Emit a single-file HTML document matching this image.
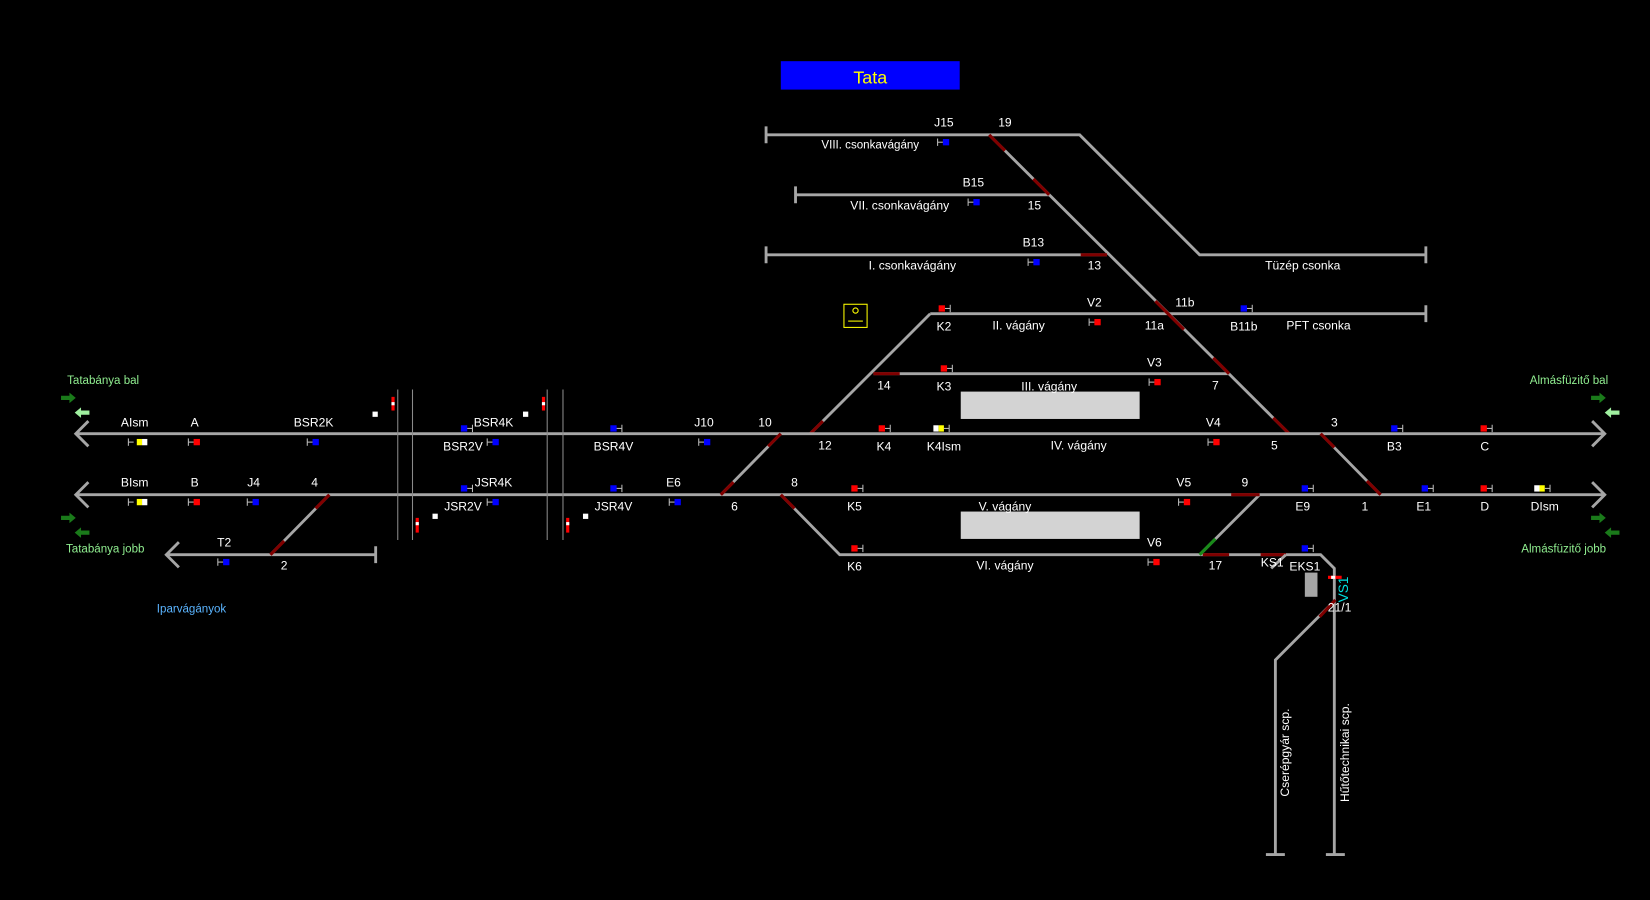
<!DOCTYPE html>
<html><head><meta charset="utf-8"><style>
html,body{margin:0;padding:0;background:#000;}
svg{display:block}
text{font-family:"Liberation Sans",sans-serif;font-size:11.5px;fill:#fff;text-anchor:middle}
.t{stroke:#a6a6a6;stroke-width:2.7;fill:none}
.r{stroke:#800000;stroke-width:3;fill:none}
.g{stroke:#1a8a1a;stroke-width:3;fill:none}
.th{stroke:#8a8a8a;stroke-width:1;fill:none}
</style></head><body>
<svg width="1650" height="900" viewBox="0 0 1568 855" xmlns="http://www.w3.org/2000/svg">
<defs>
<g id="tr"><line x1="3" y1="0" x2="8" y2="0" stroke="#bbb" stroke-width="1"/><line x1="8" y1="-3.5" x2="8" y2="3.5" stroke="#bbb" stroke-width="1"/></g>
<g id="tl"><line x1="-3" y1="0" x2="-8" y2="0" stroke="#bbb" stroke-width="1"/><line x1="-8" y1="-3.5" x2="-8" y2="3.5" stroke="#bbb" stroke-width="1"/></g>
<rect id="sq" x="-3" y="-3" width="6" height="6"/>
</defs>
<rect x="742" y="58" width="170" height="27" fill="#0000ff"/>
<text x="827" y="79" style="font-size:17px;fill:#ffff00">Tata</text>

<path class="t" d="M728 128H1026L1140 242H1355M728 120V136M1355 234V250"/>
<path class="t" d="M756 185H997M756 177V193"/>
<path class="t" d="M728 242H1052M728 234V250"/>
<path class="t" d="M940 128L1225 412"/>
<path class="t" d="M884 298H1355M1355 290V306"/>
<path class="t" d="M830 355H1168"/>
<path class="t" d="M884 298L770 412"/>
<path class="r" d="M940 128L955 143M982 170L997 185M1027 242H1052M1098 286L1125 313M1153 340L1168 355M1210 397L1225 412M830 355H855"/>
<path class="r" d="M770 412L782 400"/>

<path class="t" d="M72 412H1525M84 400L72 412L84 424M1513 400L1525 412L1513 424"/>
<path class="t" d="M72 470H1525M84 458L72 470L84 482M1513 458L1525 470L1513 482"/>
<path class="t" d="M742 412L685 470M742 470L798 527H1255L1268 540V812M1260 812H1278"/>
<path class="r" d="M742 412L730 424M697 458L685 470M742 470L755 483"/>
<path class="t" d="M1255 412L1312 470"/>
<path class="r" d="M1255 412L1268 425M1299 457L1312 470"/>
<path class="t" d="M1197 470L1140 527"/>
<path class="r" d="M1170 470H1197M1143 527H1168M1198 527H1222"/>
<path class="g" d="M1140 527L1155 512"/>
<path class="t" d="M1222 527L1208 540"/>
<path class="t" d="M1269 570L1212 627V812M1203 812H1221"/>
<path class="r" d="M1269 570L1254 586"/>
<path class="t" d="M158 527H357M170 515L158 527L170 539M357 519V535"/>
<path class="t" d="M313 470L257 527"/>
<path class="r" d="M313 470L300 483M270 514L257 527"/>
<path class="th" d="M378 370V513M392 370V513M520 370V513M535 370V513"/>
<rect x="913" y="372" width="170" height="26" fill="#d3d3d3"/>
<rect x="913" y="486" width="170" height="26" fill="#d3d3d3"/>
<rect x="1240" y="544" width="12" height="23" fill="#a6a6a6"/>
<rect x="802" y="289" width="22" height="22" fill="none" stroke="#ffff00" stroke-width="1"/>
<circle cx="813" cy="295" r="2.5" fill="none" stroke="#ffff00" stroke-width="1"/>
<line x1="806" y1="305" x2="820" y2="305" stroke="#ffff00" stroke-width="1"/>

<g><rect x="372" y="377" width="3" height="13" fill="#f00"/><rect x="372" y="382" width="3" height="3" fill="#fff"/>
<rect x="515" y="377" width="3" height="13" fill="#f00"/><rect x="515" y="382" width="3" height="3" fill="#fff"/>
<rect x="395" y="492" width="3" height="14" fill="#f00"/><rect x="395" y="496" width="3" height="3" fill="#fff"/>
<rect x="538" y="492" width="3" height="14" fill="#f00"/><rect x="538" y="496" width="3" height="3" fill="#fff"/>
<rect x="354" y="391" width="5" height="5" fill="#fff"/><rect x="497" y="391" width="5" height="5" fill="#fff"/>
<rect x="411" y="488" width="5" height="5" fill="#fff"/><rect x="554" y="488" width="5" height="5" fill="#fff"/>
<rect x="1262" y="547" width="13" height="3" fill="#f00"/><rect x="1265" y="547" width="4" height="3" fill="#fff"/>
</g>

<g fill="#0000ff">
<use href="#sq" x="899" y="135"/><use href="#tl" x="899" y="135"/>
<use href="#sq" x="928" y="192"/><use href="#tl" x="928" y="192"/>
<use href="#sq" x="985" y="249"/><use href="#tl" x="985" y="249"/>
<use href="#sq" x="1182" y="293"/><use href="#tr" x="1182" y="293"/>
<use href="#sq" x="300" y="420"/><use href="#tl" x="300" y="420"/>
<use href="#sq" x="441" y="407"/><use href="#tr" x="441" y="407"/>
<use href="#sq" x="471" y="420"/><use href="#tl" x="471" y="420"/>
<use href="#sq" x="583" y="407"/><use href="#tr" x="583" y="407"/>
<use href="#sq" x="672" y="420"/><use href="#tl" x="672" y="420"/>
<use href="#sq" x="1325" y="407"/><use href="#tr" x="1325" y="407"/>
<use href="#sq" x="243" y="477"/><use href="#tl" x="243" y="477"/>
<use href="#sq" x="441" y="464"/><use href="#tr" x="441" y="464"/>
<use href="#sq" x="471" y="477"/><use href="#tl" x="471" y="477"/>
<use href="#sq" x="583" y="464"/><use href="#tr" x="583" y="464"/>
<use href="#sq" x="644" y="477"/><use href="#tl" x="644" y="477"/>
<use href="#sq" x="1240" y="464"/><use href="#tr" x="1240" y="464"/>
<use href="#sq" x="1354" y="464"/><use href="#tr" x="1354" y="464"/>
<use href="#sq" x="1240" y="521"/><use href="#tr" x="1240" y="521"/>
<use href="#sq" x="215" y="534"/><use href="#tl" x="215" y="534"/>
</g>
<g fill="#ff0000">
<use href="#sq" x="895" y="293"/><use href="#tr" x="895" y="293"/>
<use href="#sq" x="1043" y="306"/><use href="#tl" x="1043" y="306"/>
<use href="#sq" x="897" y="350"/><use href="#tr" x="897" y="350"/>
<use href="#sq" x="1100" y="363"/><use href="#tl" x="1100" y="363"/>
<use href="#sq" x="187" y="420"/><use href="#tl" x="187" y="420"/>
<use href="#sq" x="838" y="407"/><use href="#tr" x="838" y="407"/>
<use href="#sq" x="1156" y="420"/><use href="#tl" x="1156" y="420"/>
<use href="#sq" x="1410" y="407"/><use href="#tr" x="1410" y="407"/>
<use href="#sq" x="187" y="477"/><use href="#tl" x="187" y="477"/>
<use href="#sq" x="812" y="464"/><use href="#tr" x="812" y="464"/>
<use href="#sq" x="1128" y="477"/><use href="#tl" x="1128" y="477"/>
<use href="#sq" x="1410" y="464"/><use href="#tr" x="1410" y="464"/>
<use href="#sq" x="812" y="521"/><use href="#tr" x="812" y="521"/>
<use href="#sq" x="1099" y="534"/><use href="#tl" x="1099" y="534"/>
</g>
<g>
<rect x="130" y="417" width="5" height="6" fill="#ff0"/><rect x="135" y="417" width="5" height="6" fill="#fff"/><use href="#tl" x="130" y="420"/>
<rect x="130" y="474" width="5" height="6" fill="#ff0"/><rect x="135" y="474" width="5" height="6" fill="#fff"/><use href="#tl" x="130" y="477"/>
<rect x="887" y="404" width="5" height="6" fill="#fff"/><rect x="892" y="404" width="5" height="6" fill="#ff0"/><use href="#tr" x="894" y="407"/>
<rect x="1458" y="461" width="5" height="6" fill="#fff"/><rect x="1463" y="461" width="5" height="6" fill="#ff0"/><use href="#tr" x="1465" y="464"/>
</g>

<g fill="#1a7a1a">
<path d="M58 376H66V373L72 378L66 383V380H58Z"/>
<path d="M58 490H66V487L72 492L66 497V494H58Z"/>
<path d="M85 504H77V501L71 506L77 511V508H85Z"/>
<path d="M1512 376H1520V373L1526 378L1520 383V380H1512Z"/>
<path d="M1512 490H1520V487L1526 492L1520 497V494H1512Z"/>
<path d="M1539 504H1531V501L1525 506L1531 511V508H1539Z"/>
</g>
<g fill="#a0f0a0">
<path d="M85 390H77V387L71 392L77 397V394H85Z"/>
<path d="M1539 390H1531V387L1525 392L1531 397V394H1539Z"/>
</g>

<g>
<text x="897" y="120">J15</text><text x="955" y="120">19</text>
<text x="827" y="141" style="font-size:11px">VIII. csonkavágány</text>
<text x="925" y="177">B15</text><text x="855" y="199">VII. csonkavágány</text><text x="983" y="199">15</text>
<text x="982" y="234">B13</text><text x="867" y="256">I. csonkavágány</text><text x="1040" y="256">13</text>
<text x="1238" y="256">Tüzép csonka</text>
<text x="1040" y="291">V2</text><text x="1126" y="291">11b</text>
<text x="897" y="314">K2</text><text x="968" y="313">II. vágány</text><text x="1097" y="313">11a</text><text x="1182" y="314">B11b</text><text x="1253" y="313">PFT csonka</text>
<text x="1097" y="348">V3</text><text x="840" y="370">14</text><text x="897" y="371">K3</text><text x="997" y="371">III. vágány</text><text x="1155" y="370">7</text>
<text x="128" y="405">AIsm</text><text x="185" y="405">A</text><text x="298" y="405">BSR2K</text><text x="469" y="405">BSR4K</text><text x="669" y="405">J10</text><text x="727" y="405">10</text><text x="1153" y="405">V4</text><text x="1268" y="405">3</text>
<text x="440" y="428">BSR2V</text><text x="583" y="428">BSR4V</text><text x="784" y="427">12</text><text x="840" y="428">K4</text><text x="897" y="428">K4Ism</text><text x="1025" y="427">IV. vágány</text><text x="1211" y="427">5</text><text x="1325" y="428">B3</text><text x="1411" y="428">C</text>
<text x="128" y="462">BIsm</text><text x="185" y="462">B</text><text x="241" y="462">J4</text><text x="299" y="462">4</text><text x="469" y="462">JSR4K</text><text x="640" y="462">E6</text><text x="755" y="462">8</text><text x="1125" y="462">V5</text><text x="1183" y="462">9</text>
<text x="440" y="485">JSR2V</text><text x="583" y="485">JSR4V</text><text x="698" y="485">6</text><text x="812" y="485">K5</text><text x="955" y="485">V. vágány</text><text x="1238" y="485">E9</text><text x="1297" y="485">1</text><text x="1353" y="485">E1</text><text x="1411" y="485">D</text><text x="1468" y="485">DIsm</text>
<text x="213" y="519">T2</text><text x="270" y="541">2</text><text x="1097" y="519">V6</text>
<text x="812" y="542">K6</text><text x="955" y="541">VI. vágány</text><text x="1155" y="541">17</text><text x="1209" y="538">KS1</text><text x="1240" y="542">EKS1</text>
<text x="1273" y="581">21/1</text>
<text x="98" y="365" style="fill:#90ee90;font-size:11px">Tatabánya bal</text>
<text x="100" y="525" style="fill:#90ee90;font-size:11px">Tatabánya jobb</text>
<text x="1491" y="365" style="fill:#90ee90;font-size:11px">Almásfüzitő bal</text>
<text x="1486" y="525" style="fill:#90ee90;font-size:11px">Almásfüzitő jobb</text>
<text x="182" y="582" style="fill:#5ab4ff;font-size:11px">Iparvágányok</text>
<text transform="translate(1281,560) rotate(-90)" style="fill:#00e0e0;font-size:13px">VS1</text>
<text transform="translate(1225,715) rotate(-90)">Cserépgyár scp.</text>
<text transform="translate(1282,715) rotate(-90)">Hűtőtechnikai scp.</text>
</g>
</svg>
</body></html>
